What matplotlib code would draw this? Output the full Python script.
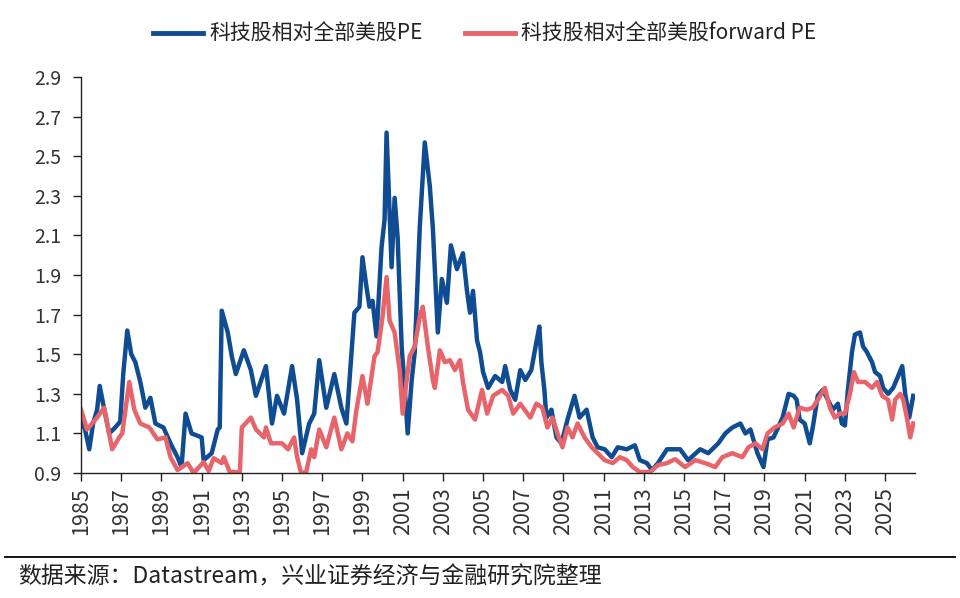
import numpy as np
import matplotlib
matplotlib.use("Agg")
import matplotlib.pyplot as plt
from matplotlib.lines import Line2D

plt.rcParams['font.family'] = ['Noto Sans CJK SC', 'DejaVu Sans']

# 科技股相对全部美股PE (decimal year, ratio)
pe_year = [1985.0, 1985.2, 1985.41, 1985.6, 1985.8, 1985.93, 1986.1, 1986.4, 1986.7, 1986.95,
           1987.1, 1987.3, 1987.5, 1987.7, 1987.95, 1988.2, 1988.45, 1988.7, 1989.1, 1989.45,
           1989.8, 1990.0, 1990.2, 1990.5, 1991.0, 1991.1, 1991.5, 1991.8, 1991.9, 1992.0,
           1992.3, 1992.5, 1992.7, 1993.1, 1993.45, 1993.7, 1994.2, 1994.5, 1994.75, 1995.1,
           1995.5, 1995.75, 1996.0, 1996.35, 1996.6, 1996.85, 1997.2, 1997.6, 1997.95, 1998.2,
           1998.35, 1998.6, 1998.85, 1999.0, 1999.2, 1999.35, 1999.5, 1999.7, 1999.95, 2000.1,
           2000.2, 2000.35, 2000.45, 2000.6, 2000.75, 2000.95, 2001.1, 2001.25, 2001.45, 2001.6,
           2001.85, 2002.1, 2002.35, 2002.5, 2002.62, 2002.75, 2002.95, 2003.2, 2003.4, 2003.7,
           2004.0, 2004.2, 2004.35, 2004.5, 2004.7, 2004.85, 2005.0, 2005.25, 2005.6, 2005.95,
           2006.1, 2006.35, 2006.6, 2006.85, 2007.1, 2007.4, 2007.65, 2007.8, 2007.9, 2008.05,
           2008.15, 2008.4, 2008.65, 2008.9, 2009.2, 2009.55, 2009.8, 2010.15, 2010.45, 2010.7,
           2011.05, 2011.4, 2011.7, 2012.15, 2012.55, 2012.8, 2013.15, 2013.4, 2013.7, 2014.15,
           2014.55, 2014.8, 2015.2, 2015.8, 2016.2, 2016.7, 2017.05, 2017.4, 2017.8, 2018.05,
           2018.3, 2018.65, 2018.95, 2019.15, 2019.45, 2019.9, 2020.2, 2020.45, 2020.6, 2020.75,
           2021.0, 2021.25, 2021.4, 2021.65, 2021.9, 2022.15, 2022.4, 2022.65, 2022.85, 2023.0,
           2023.15, 2023.35, 2023.5, 2023.75, 2023.9, 2024.1, 2024.35, 2024.5, 2024.75, 2024.9,
           2025.15, 2025.4, 2025.65, 2025.85, 2026.0, 2026.2, 2026.4]
pe_val = [1.17, 1.12, 1.02, 1.15, 1.22, 1.34, 1.25, 1.10, 1.13, 1.16,
          1.40, 1.62, 1.50, 1.46, 1.36, 1.23, 1.28, 1.15, 1.13, 1.05,
          0.98, 0.93, 1.20, 1.10, 1.08, 0.965, 1.00, 1.12, 1.13, 1.72,
          1.61, 1.49, 1.40, 1.52, 1.42, 1.29, 1.44, 1.15, 1.29, 1.20,
          1.44, 1.27, 1.00, 1.15, 1.20, 1.47, 1.23, 1.40, 1.23, 1.15,
          1.36, 1.71, 1.74, 1.99, 1.84, 1.74, 1.77, 1.59, 2.04, 2.18,
          2.62, 2.21, 1.94, 2.29, 2.09, 1.54, 1.33, 1.10, 1.37, 1.51,
          2.14, 2.57, 2.35, 2.14, 1.88, 1.61, 1.88, 1.76, 2.05, 1.93,
          2.01, 1.82, 1.71, 1.82, 1.57, 1.51, 1.41, 1.33, 1.39, 1.36,
          1.44, 1.32, 1.27, 1.42, 1.37, 1.42, 1.56, 1.64, 1.46, 1.32,
          1.18, 1.22, 1.08, 1.05, 1.17, 1.29, 1.18, 1.22, 1.08, 1.03,
          1.02, 0.98, 1.03, 1.02, 1.04, 0.965, 0.95, 0.915, 0.95, 1.02,
          1.02, 1.02, 0.965, 1.02, 1.00, 1.05, 1.10, 1.13, 1.15, 1.10,
          1.12, 1.00, 0.93, 1.07, 1.08, 1.18, 1.30, 1.29, 1.27, 1.17,
          1.15, 1.05, 1.13, 1.29, 1.32, 1.27, 1.22, 1.25, 1.15, 1.14,
          1.32, 1.51, 1.60, 1.61, 1.54, 1.51, 1.46, 1.41, 1.39, 1.33,
          1.30, 1.33, 1.39, 1.44, 1.30, 1.18, 1.29]

# 科技股相对全部美股forward PE
fpe_year = [1985.0, 1985.3, 1985.8, 1986.15, 1986.4, 1986.55, 1986.9, 1987.05, 1987.4, 1987.65,
            1987.95, 1988.4, 1988.8, 1989.2, 1989.45, 1989.8, 1990.3, 1990.6, 1991.1, 1991.35,
            1991.6, 1992.0, 1992.1, 1992.4, 1992.9, 1993.0, 1993.45, 1993.7, 1994.1, 1994.2,
            1994.45, 1995.0, 1995.3, 1995.6, 1995.75, 1995.95, 1996.2, 1996.45, 1996.6, 1996.85,
            1997.2, 1997.6, 1997.95, 1998.25, 1998.5, 1998.7, 1999.0, 1999.25, 1999.6, 1999.75,
            2000.0, 2000.2, 2000.35, 2000.6, 2000.85, 2001.0, 2001.2, 2001.35, 2001.6, 2001.85,
            2002.0, 2002.25, 2002.5, 2002.6, 2002.85, 2003.1, 2003.35, 2003.6, 2003.85, 2004.0,
            2004.25, 2004.6, 2004.95, 2005.2, 2005.5, 2005.95, 2006.25, 2006.5, 2006.85, 2007.35,
            2007.65, 2007.95, 2008.2, 2008.45, 2008.7, 2008.95, 2009.2, 2009.45, 2009.7, 2010.05,
            2010.4, 2010.7, 2011.05, 2011.45, 2011.8, 2012.15, 2012.45, 2012.8, 2013.3, 2013.7,
            2014.15, 2014.55, 2015.05, 2015.55, 2016.05, 2016.55, 2016.9, 2017.4, 2017.9, 2018.2,
            2018.55, 2018.9, 2019.15, 2019.5, 2019.9, 2020.2, 2020.45, 2020.75, 2021.1, 2021.4,
            2021.65, 2022.0, 2022.25, 2022.5, 2022.75, 2023.0, 2023.25, 2023.45, 2023.65, 2024.0,
            2024.35, 2024.6, 2024.85, 2025.15, 2025.35, 2025.5, 2025.75, 2025.9, 2026.1, 2026.25,
            2026.4]
fpe_val = [1.22, 1.12, 1.18, 1.23, 1.10, 1.02, 1.08, 1.10, 1.36, 1.22,
           1.15, 1.13, 1.07, 1.08, 0.98, 0.915, 0.95, 0.90, 0.955, 0.91,
           0.975, 0.95, 0.98, 0.905, 0.905, 1.13, 1.18, 1.12, 1.08, 1.13,
           1.05, 1.05, 1.02, 1.08, 0.98, 0.90, 0.905, 1.02, 0.98, 1.12,
           1.03, 1.18, 1.02, 1.10, 1.06, 1.22, 1.39, 1.25, 1.49, 1.51,
           1.69, 1.89, 1.67, 1.61, 1.42, 1.20, 1.37, 1.49, 1.54, 1.69,
           1.74, 1.54, 1.37, 1.33, 1.52, 1.46, 1.47, 1.42, 1.47, 1.36,
           1.22, 1.17, 1.32, 1.20, 1.29, 1.32, 1.29, 1.20, 1.25, 1.18,
           1.25, 1.23, 1.13, 1.18, 1.10, 1.03, 1.13, 1.08, 1.15, 1.08,
           1.03, 1.00, 0.965, 0.95, 0.98, 0.965, 0.93, 0.905, 0.905, 0.94,
           0.95, 0.97, 0.93, 0.965, 0.95, 0.93, 0.98, 1.00, 0.98, 1.03,
           1.05, 1.02, 1.10, 1.13, 1.15, 1.20, 1.13, 1.23, 1.22, 1.23,
           1.27, 1.33, 1.23, 1.18, 1.20, 1.20, 1.30, 1.41, 1.36, 1.36,
           1.33, 1.36, 1.29, 1.27, 1.17, 1.27, 1.30, 1.27, 1.17, 1.08,
           1.15]

tick_years = list(range(1985, 2026, 2))
y_ticks = [0.9, 1.1, 1.3, 1.5, 1.7, 1.9, 2.1, 2.3, 2.5, 2.7, 2.9]

blue = '#0F4C92'
red = '#E8646B'
text_c = '#333333'

fig = plt.figure(figsize=(9.6, 5.98), dpi=100)
ax = fig.add_axes([0.0844, 0.209, 0.869, 0.662])

ax.plot(pe_year, pe_val, color=blue, linewidth=3.2, solid_joinstyle='round')
ax.plot(fpe_year, fpe_val, color=red, linewidth=3.2, solid_joinstyle='round')

ax.set_xlim(1985, 2026.5)
ax.set_ylim(0.9, 2.9)
ax.set_yticks(y_ticks)
ax.set_yticklabels([f'{v:.1f}' for v in y_ticks], fontsize=14, color=text_c)
ax.set_xticks(tick_years)
ax.set_xticklabels([str(y) for y in tick_years], rotation=90, fontsize=15.5, color=text_c)

for s in ['top', 'right']:
    ax.spines[s].set_visible(False)
for s in ['left', 'bottom']:
    ax.spines[s].set_color('#222222')
    ax.spines[s].set_linewidth(1.0)
ax.tick_params(axis='both', direction='out', length=6, width=1.0, color='#222222')
ax.tick_params(axis='y', pad=8)
ax.tick_params(axis='x', pad=4)

handles = [Line2D([], [], color=blue, linewidth=3.5),
           Line2D([], [], color=red, linewidth=3.5)]
labels = ['科技股相对全部美股PE', '科技股相对全部美股forward PE']
fig.legend(handles, labels, loc='upper center', bbox_to_anchor=(0.505, 0.993), ncol=2,
           frameon=False, fontsize=15, handlelength=2.4, handletextpad=0.3,
           columnspacing=2.0, labelcolor='#222222')

fig.add_artist(Line2D([0.005, 0.995], [0.069, 0.069], color='black', linewidth=1.3,
                      transform=fig.transFigure))
fig.text(0.019, 0.035, '数据来源：Datastream，兴业证券经济与金融研究院整理',
         fontsize=16.5, color='#222222', va='center', ha='left')

fig.savefig('out.png', dpi=100)
